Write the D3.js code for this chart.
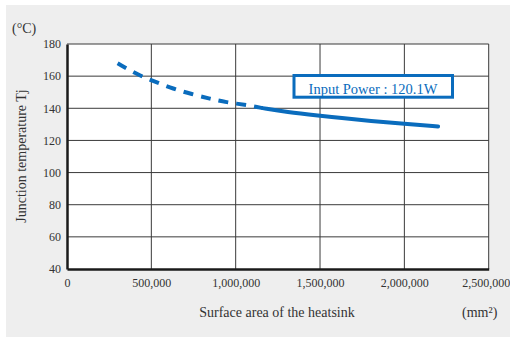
<!DOCTYPE html>
<html><head><meta charset="utf-8">
<script src="https://cdn.jsdelivr.net/npm/d3@7"></script>
<style>body{margin:0;background:#fff}svg{display:block}</style>
</head><body>
<script>
const xTicks = [0, 500000, 1000000, 1500000, 2000000, 2500000];
const yTicks = [40, 60, 80, 100, 120, 140, 160, 180];
const dashedArea = [300000, 420000, 520000, 630000, 740000, 850000, 940000, 1070000, 1160000];
const dashedTemp = [168.0, 160.8, 156.6, 152.1, 148.8, 145.9, 143.8, 142.0, 140.1];
const solidArea = [1160000, 1300000, 1500000, 1620000, 1800000, 2000000, 2200000];
const solidTemp = [140.1, 137.6, 135.3, 134.0, 132.1, 130.4, 128.7];
const legendText = "Input Power : 120.1W";

const W = 510, H = 337;
const m = {l: 67, t: 44, r: 488.7, b: 269};
const blue = "#0a6cbd";
const font = "'Liberation Serif', 'Times New Roman', serif";

const svg = d3.select("body").append("svg").attr("width", W).attr("height", H);
svg.append("rect").attr("x", 6).attr("y", 5).attr("width", W - 6).attr("height", H - 5).attr("fill", "#eeeeee");
svg.append("rect").attr("x", m.l).attr("y", m.t).attr("width", m.r - m.l).attr("height", m.b - m.t).attr("fill", "#fff");

const x = d3.scaleLinear().domain([0, 2500000]).range([m.l, m.r]);
const y = d3.scaleLinear().domain([40, 180]).range([m.b, m.t]);

// grid
const g = svg.append("g");
g.selectAll(".vg").data(xTicks.slice(1)).join("line")
  .attr("x1", d => x(d)).attr("x2", d => x(d)).attr("y1", m.t).attr("y2", m.b)
  .attr("stroke", "#3a3a3a").attr("stroke-width", 1);
g.selectAll(".hg").data(yTicks.slice(1)).join("line")
  .attr("x1", m.l).attr("x2", m.r).attr("y1", d => y(d)).attr("y2", d => y(d))
  .attr("stroke", "#3a3a3a").attr("stroke-width", 1);

// axes
const xAxis = svg.append("g").attr("transform", `translate(0,${m.b})`)
  .call(d3.axisBottom(x).tickValues(xTicks).tickSize(0).tickPadding(9).tickFormat(d3.format(",")));
const yAxis = svg.append("g").attr("transform", `translate(${m.l},0)`)
  .call(d3.axisLeft(y).tickValues(yTicks).tickSize(0).tickPadding(6));
[xAxis, yAxis].forEach(a => {
  a.select(".domain").attr("stroke", "#1a1a1a").attr("stroke-width", 2.5);
  a.selectAll("text").attr("font-family", font).attr("font-size", 12).attr("fill", "#333");
});
xAxis.selectAll(".tick").filter(d => d === 2500000).select("text").attr("dx", -3);

// curves
const line = d3.line().x(d => x(d[0])).y(d => y(d[1])).curve(d3.curveBasis);
svg.append("path").datum(d3.zip(dashedArea, dashedTemp)).attr("d", line)
  .attr("fill", "none").attr("stroke", blue).attr("stroke-width", 4)
  .attr("stroke-dasharray", "10,8");
svg.append("path").datum(d3.zip(solidArea, solidTemp)).attr("d", line)
  .attr("fill", "none").attr("stroke", blue).attr("stroke-width", 4).attr("stroke-linecap", "round");

// legend box
svg.append("rect").attr("x", 294).attr("y", 75.5).attr("width", 158.5).attr("height", 21.7)
  .attr("fill", "#fff").attr("stroke", blue).attr("stroke-width", 3);
svg.append("text").attr("x", 373).attr("y", 93.5).attr("text-anchor", "middle")
  .attr("font-family", font).attr("font-size", 14.5).attr("fill", blue).text(legendText);

// labels
svg.append("text").attr("x", 12).attr("y", 33).attr("font-family", font).attr("font-size", 14).attr("fill", "#333").text("(°C)");
svg.append("text").attr("transform", "translate(26,156) rotate(-90)").attr("text-anchor", "middle")
  .attr("font-family", font).attr("font-size", 14).attr("fill", "#333").text("Junction temperature Tj");
svg.append("text").attr("x", 277).attr("y", 317).attr("text-anchor", "middle")
  .attr("font-family", font).attr("font-size", 14).attr("fill", "#333").text("Surface area of the heatsink");
svg.append("text").attr("x", 462).attr("y", 317)
  .attr("font-family", font).attr("font-size", 14).attr("fill", "#333").text("(mm²)");
</script>
</body></html>
